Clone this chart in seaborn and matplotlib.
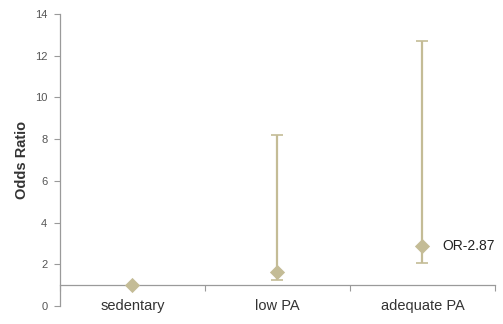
import matplotlib
matplotlib.use("Agg")
import matplotlib.pyplot as plt
import seaborn as sns
import pandas as pd
import numpy as np

# data
groups = ["sedentary", "low PA", "adequate PA"]
odds_ratio = [1.0, 1.63, 2.87]
ci_low = [1.0, 1.25, 2.05]
ci_high = [1.0, 8.2, 12.7]
y_ticks = [0, 2, 4, 6, 8, 10, 12, 14]

tan = "#c4bc96"
axis_grey = "#9a9a9a"

sns.set_style("white")
plt.rcParams["font.family"] = ["Liberation Sans", "DejaVu Sans"]

df = pd.DataFrame({"pos": np.arange(len(groups)), "group": groups,
                   "OR": odds_ratio, "lo": ci_low, "hi": ci_high})

fig = plt.figure(figsize=(5.03, 3.24), dpi=100)
ax = fig.add_axes([0.119, 0.0556, 0.865, 0.9014])

# confidence intervals (skip the reference group, which has no interval)
ci = df[df["hi"] > df["lo"]]
ax.errorbar(ci["pos"], ci["OR"],
            yerr=[ci["OR"] - ci["lo"], ci["hi"] - ci["OR"]],
            fmt="none", ecolor=tan, elinewidth=1.6, capsize=4, capthick=1.2,
            zorder=2)
sns.scatterplot(data=df, x="pos", y="OR", marker="D", s=60, color=tan,
                edgecolor=tan, linewidth=0, ax=ax, zorder=3, legend=False)

ax.set_xlim(-0.5, 2.5)
ax.set_ylim(0, 14)
ax.set_yticks(y_ticks)
ax.tick_params(axis="y", left=True, direction="out", length=4, width=0.8,
               color=axis_grey, labelsize=8, labelcolor="#555555", pad=5)

# horizontal axis crosses at OR = 1
ax.spines["bottom"].set_position(("data", 1))
ax.spines["bottom"].set_color(axis_grey)
ax.spines["left"].set_color(axis_grey)
ax.spines["left"].set_linewidth(0.9)
ax.spines["bottom"].set_linewidth(0.9)
ax.spines["top"].set_visible(False)
ax.spines["right"].set_visible(False)

ax.set_xticks([-0.5, 0.5, 1.5, 2.5])
ax.set_xticklabels([])
ax.set_xticks(df["pos"], minor=True)
ax.set_xticklabels(groups, minor=True)
ax.tick_params(axis="x", which="major", bottom=True, direction="out",
               length=4, width=0.8, color=axis_grey)
ax.tick_params(axis="x", which="minor", bottom=True, length=0, pad=10,
               labelsize=10.5, labelcolor="#333333")

ax.set_xlabel("")
ax.set_ylabel("Odds Ratio", fontsize=10.5, fontweight="bold",
              color="#333333", labelpad=4)

ax.text(2.14, odds_ratio[2], "OR-2.87", fontsize=10, color="#222222",
        va="center", ha="left", clip_on=False)

fig.savefig("out.png", dpi=100)
